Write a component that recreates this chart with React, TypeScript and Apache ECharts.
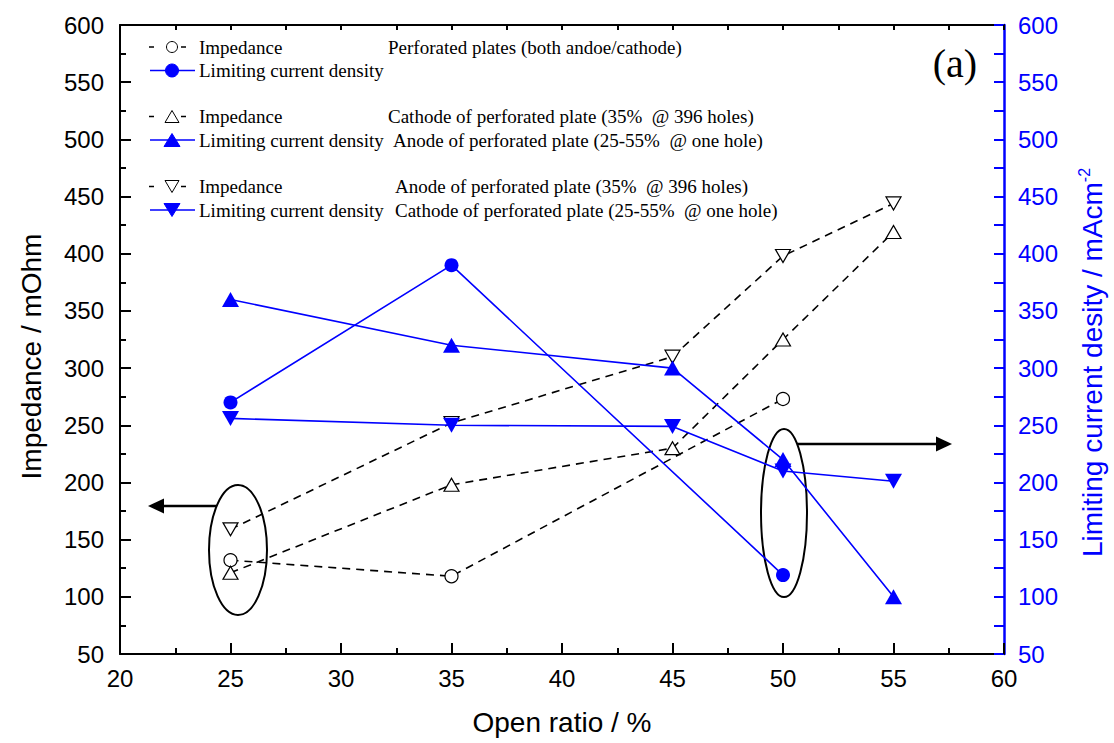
import React, { useEffect, useRef } from 'react';
import * as echarts from 'echarts';

// ---- data ----
const openRatio = [25, 35, 45, 50, 55];
const impPlatesX = [25, 35, 50];
const impPlates = [132, 118, 273];
const impCathode35 = [121, 198, 230, 325, 419];
const impAnode35 = [159, 252, 310, 398, 444];
const lcdPlatesX = [25, 35, 50];
const lcdPlates = [270, 390, 119];
const lcdAnodeOneHole = [360, 320, 300, 220, 100];
const lcdCathodeOneHole = [256, 250, 249, 210, 201];

const xMin = 20, xMax = 60, xStep = 5;
const yMin = 50, yMax = 600, yStep = 50;

const legendLabels = ['Impedance', 'Limiting current density', 'Impedance', 'Limiting current density', 'Impedance', 'Limiting current density'];
const legendNotes = [
  'Perforated plates (both andoe/cathode)',
  '',
  'Cathode of perforated plate (35%  @ 396 holes)',
  'Anode of perforated plate (25-55%  @ one hole)',
  'Anode of perforated plate (35%  @ 396 holes)',
  'Cathode of perforated plate (25-55%  @ one hole)',
];
const legendKinds = ['imp', 'lcd', 'imp', 'lcd', 'imp', 'lcd'];
const legendSymbols = ['circle', 'circle', 'up', 'up', 'down', 'down'];

const BLUE = '#0000ff';
const SANS = '"Liberation Sans", Arial, sans-serif';
const SERIF = '"Liberation Serif", "Times New Roman", serif';

const pair = (xs: number[], ys: number[]) => xs.map((x, i) => [x, ys[i]]);

function triPts(cx: number, cy: number, w: number, h: number, down: boolean) {
  return down
    ? [[cx - w / 2, cy - h / 2], [cx + w / 2, cy - h / 2], [cx, cy + h / 2]]
    : [[cx, cy - h / 2], [cx - w / 2, cy + h / 2], [cx + w / 2, cy + h / 2]];
}

function buildGraphic() {
  const g: any[] = [];
  const rowY = [47, 70.5, 116.5, 140, 186.5, 210];
  const noteX = [388, 0, 388, 393, 395, 395];
  legendLabels.forEach((label, i) => {
    const y = rowY[i];
    const imp = legendKinds[i] === 'imp';
    const col = imp ? '#000' : BLUE;
    if (imp) {
      g.push({ type: 'line', shape: { x1: 149, y1: y, x2: 154, y2: y }, style: { stroke: col, lineWidth: 1.5 } });
      g.push({ type: 'line', shape: { x1: 181, y1: y, x2: 186, y2: y }, style: { stroke: col, lineWidth: 1.5 } });
    } else {
      g.push({ type: 'line', shape: { x1: 150, y1: y, x2: 195, y2: y }, style: { stroke: col, lineWidth: 1.6 } });
    }
    const sym = legendSymbols[i];
    const fill = imp ? '#fff' : BLUE;
    if (sym === 'circle') {
      g.push({ type: 'circle', shape: { cx: 172, cy: y, r: imp ? 5.5 : 6.5 }, style: { fill, stroke: col, lineWidth: 1 } });
    } else {
      const w = imp ? 14 : 16, h = imp ? 12 : 13;
      g.push({ type: 'polygon', shape: { points: triPts(172, y, w, h, sym === 'down') }, style: { fill, stroke: col, lineWidth: 1 } });
    }
    g.push({ type: 'text', x: 199, y, style: { text: label, fontSize: 19, fontFamily: SERIF, fill: '#000', verticalAlign: 'middle', align: 'left' } });
    if (legendNotes[i]) {
      g.push({ type: 'text', x: noteX[i], y, style: { text: legendNotes[i], fontSize: 19, fontFamily: SERIF, fill: '#000', verticalAlign: 'middle', align: 'left' } });
    }
  });
  g.push({ type: 'text', x: 955, y: 63, style: { text: '(a)', fontSize: 40, fontFamily: SERIF, fill: '#000', align: 'center', verticalAlign: 'middle' } });
  // ellipses and arrows
  g.push({ type: 'ellipse', shape: { cx: 238, cy: 550, rx: 29, ry: 65 }, style: { fill: 'none', stroke: '#000', lineWidth: 2 } });
  g.push({ type: 'line', shape: { x1: 217, y1: 506, x2: 160, y2: 506 }, style: { stroke: '#000', lineWidth: 2.6 } });
  g.push({ type: 'polygon', shape: { points: [[148, 506], [164, 498.5], [164, 513.5]] }, style: { fill: '#000' } });
  g.push({ type: 'ellipse', shape: { cx: 784, cy: 513, rx: 23, ry: 84 }, style: { fill: 'none', stroke: '#000', lineWidth: 2 } });
  g.push({ type: 'line', shape: { x1: 797, y1: 444, x2: 940, y2: 444 }, style: { stroke: '#000', lineWidth: 2.6 } });
  g.push({ type: 'polygon', shape: { points: [[952, 444], [936, 436.5], [936, 451.5]] }, style: { fill: '#000' } });
  return g;
}

function impSeries(name: string, data: number[][], symbol: string, rotate: number, size: any) {
  return {
    name, type: 'line', xAxisIndex: 0, yAxisIndex: 0, data,
    symbol, symbolSize: size, symbolRotate: rotate, showSymbol: true,
    lineStyle: { color: '#000', width: 1.6, type: [8, 6] },
    itemStyle: { color: '#fff', borderColor: '#000', borderWidth: 1.2 },
    z: 3,
  };
}
function lcdSeries(name: string, data: number[][], symbol: string, rotate: number, size: any) {
  return {
    name, type: 'line', xAxisIndex: 0, yAxisIndex: 1, data,
    symbol, symbolSize: size, symbolRotate: rotate, showSymbol: true,
    lineStyle: { color: BLUE, width: 1.6 },
    itemStyle: { color: BLUE, borderWidth: 0 },
    z: 4,
  };
}

export default function App() {
  const ref = useRef<HTMLDivElement>(null);
  useEffect(() => {
    if (!ref.current) return;
    const chart = echarts.init(ref.current, undefined, { renderer: 'svg' });
    const tickBlack = { color: '#000', width: 2 };
    chart.setOption({
      animation: false,
      backgroundColor: '#fff',
      grid: { left: 120, right: 110, top: 25, bottom: 89, containLabel: false },
      xAxis: [
        {
          type: 'value', min: xMin, max: xMax, interval: xStep, position: 'bottom',
          axisLine: { show: true, onZero: false, lineStyle: { color: '#000', width: 2 } },
          axisTick: { show: true, inside: true, length: 11, lineStyle: tickBlack },
          minorTick: { show: true, splitNumber: 2, length: 6, lineStyle: tickBlack },
          splitLine: { show: false },
          axisLabel: { fontSize: 24, color: '#000', fontFamily: SANS, margin: 12 },
          name: 'Open ratio / %', nameLocation: 'middle', nameGap: 54,
          nameTextStyle: { fontSize: 28, color: '#000', fontFamily: SANS },
        },
        {
          type: 'value', min: xMin, max: xMax, interval: xStep, position: 'top',
          axisLine: { show: true, onZero: false, lineStyle: { color: '#000', width: 2 } },
          axisTick: { show: true, inside: true, length: 5, lineStyle: tickBlack },
          minorTick: { show: true, splitNumber: 2, length: 5, lineStyle: tickBlack },
          splitLine: { show: false },
          axisLabel: { show: false },
        },
      ],
      yAxis: [
        {
          type: 'value', min: yMin, max: yMax, interval: yStep, position: 'left',
          axisLine: { show: true, onZero: false, lineStyle: { color: '#000', width: 2 } },
          axisTick: { show: true, inside: true, length: 11, lineStyle: tickBlack },
          minorTick: { show: true, splitNumber: 2, length: 6, lineStyle: tickBlack },
          splitLine: { show: false },
          axisLabel: { fontSize: 24, color: '#000', fontFamily: SANS, margin: 16 },
          name: 'Impedance / mOhm', nameLocation: 'middle', nameGap: 75, nameRotate: 90,
          nameTextStyle: { fontSize: 28, color: '#000', fontFamily: SANS, padding: [0, 34, 0, 0] },
        },
        {
          type: 'value', min: yMin, max: yMax, interval: yStep, position: 'right',
          axisLine: { show: true, onZero: false, lineStyle: { color: BLUE, width: 2.5 } },
          axisTick: { show: true, inside: true, length: 10, lineStyle: { color: BLUE, width: 2 } },
          minorTick: { show: true, splitNumber: 2, length: 10, lineStyle: { color: BLUE, width: 2 } },
          splitLine: { show: false },
          axisLabel: { fontSize: 24, color: BLUE, fontFamily: SANS, margin: 14 },
          name: '{t|Limiting current desity / mAcm}{s|-2}', nameLocation: 'middle', nameGap: 72, nameRotate: 90,
          nameTextStyle: {
            fontSize: 28, color: BLUE, fontFamily: SANS, padding: [0, 46, 0, 0],
            rich: {
              t: { fontSize: 28, color: BLUE, fontFamily: SANS, lineHeight: 32 },
              s: { fontSize: 16, color: BLUE, fontFamily: SANS, verticalAlign: 'top', lineHeight: 32 },
            },
          },
        },
      ],
      series: [
        impSeries('Impedance (perforated plates)', pair(impPlatesX, impPlates), 'circle', 0, 13),
        impSeries('Impedance (cathode 35%)', pair(openRatio, impCathode35), 'triangle', 0, [15, 13]),
        impSeries('Impedance (anode 35%)', pair(openRatio, impAnode35), 'triangle', 180, [15, 13]),
        lcdSeries('LCD (perforated plates)', pair(lcdPlatesX, lcdPlates), 'circle', 0, 14),
        lcdSeries('LCD (anode one hole)', pair(openRatio, lcdAnodeOneHole), 'triangle', 0, [17, 15]),
        lcdSeries('LCD (cathode one hole)', pair(openRatio, lcdCathodeOneHole), 'triangle', 180, [17, 15]),
      ],
      graphic: buildGraphic(),
    });
    return () => chart.dispose();
  }, []);
  return <div ref={ref} style={{ position: 'fixed', left: 0, top: 0, width: 1114, height: 743, background: '#fff' }} />;
}
